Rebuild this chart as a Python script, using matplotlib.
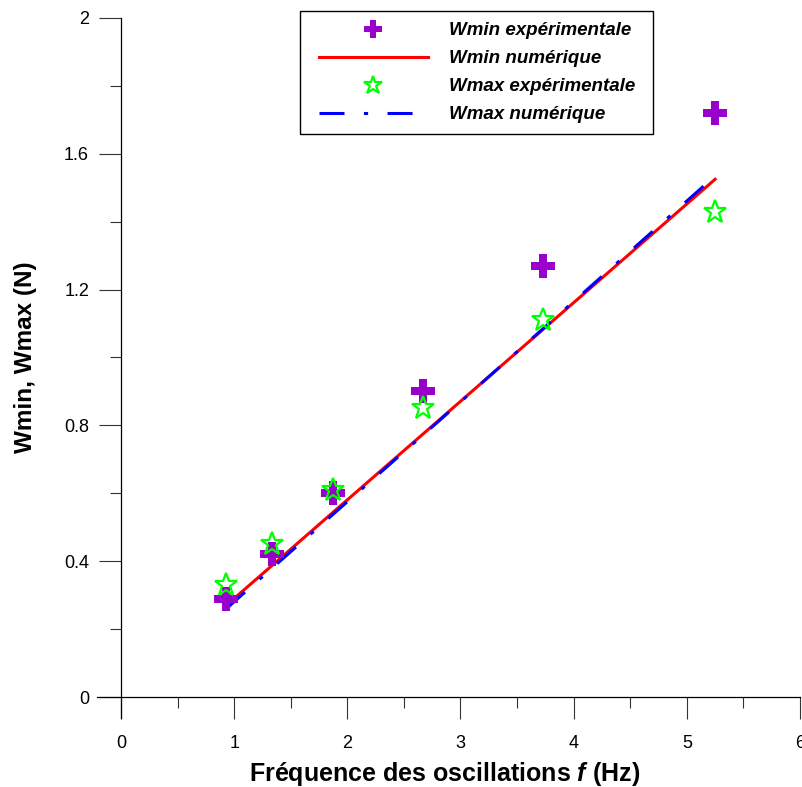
import matplotlib
matplotlib.use("Agg")
import matplotlib.pyplot as plt
from matplotlib.lines import Line2D
from matplotlib.patches import Rectangle

plt.rcParams['font.family'] = ['Liberation Sans', 'DejaVu Sans']
plt.rcParams['mathtext.fontset'] = 'custom'
plt.rcParams['mathtext.it'] = 'Liberation Sans:italic:bold'
plt.rcParams['lines.scale_dashes'] = False

# data
freq = [0.93, 1.33, 1.87, 2.67, 3.73, 5.25]
wmin_exp = [0.29, 0.42, 0.60, 0.90, 1.27, 1.72]
wmax_exp = [0.33, 0.45, 0.61, 0.85, 1.11, 1.43]
wmin_num = [0.27, 0.386, 0.543, 0.775, 1.083, 1.525]
wmax_num = [0.26, 0.378, 0.537, 0.772, 1.085, 1.535]

W, H = 803, 787
fig = plt.figure(figsize=(W / 100, H / 100), dpi=100)
ax = fig.add_axes([121 / W, 1 - 697 / H, 679 / W, 679 / H])

ax.plot(freq, wmin_exp, linestyle='none', marker='P', markersize=17,
        color='#9900cc', markeredgewidth=0, label='Wmin expérimentale', zorder=3)
ax.plot(freq, wmin_num, color='red', linewidth=2.2, label='Wmin numérique', zorder=2)
ax.plot(freq, wmax_exp, linestyle='none', marker='*', markersize=17,
        markerfacecolor='none', markeredgecolor='#00ff00', markeredgewidth=1.6,
        label='Wmax expérimentale', zorder=4)
ax.plot(freq, wmax_num, color='blue', linewidth=2.2, dashes=(18, 14, 3, 14),
        label='Wmax numérique', zorder=2.5)

ax.set_xlim(0, 6)
ax.set_ylim(0, 2)
ax.set_xticks([0, 1, 2, 3, 4, 5, 6])
ax.set_xticks([0.5, 1.5, 2.5, 3.5, 4.5, 5.5], minor=True)
ax.set_yticks([0, 0.4, 0.8, 1.2, 1.6, 2])
ax.set_yticklabels(['0', '0.4', '0.8', '1.2', '1.6', '2'])
ax.set_yticks([0.2, 0.6, 1.0, 1.4, 1.8], minor=True)
ax.tick_params(which='major', direction='out', length=16, width=0.8,
               color='#333333', labelsize=13)
ax.tick_params(axis='x', which='major', pad=11)
ax.tick_params(axis='y', which='major', pad=7)
ax.tick_params(which='minor', direction='out', length=8, width=0.8, color='#333333')

# axis lines crossing a bit past the origin
for s in ax.spines.values():
    s.set_visible(False)
ax.add_line(Line2D([-0.036, 1.0], [0, 0], transform=ax.transAxes,
                   color='black', linewidth=0.9, clip_on=False))
ax.add_line(Line2D([0, 0], [-0.031, 1.0], transform=ax.transAxes,
                   color='black', linewidth=0.9, clip_on=False))

ax.set_xlabel('Fréquence des oscillations $f$ (Hz)', fontsize=18,
              fontweight='bold', va='center')
ax.xaxis.set_label_coords(324 / 679, -77 / 679)
ax.set_ylabel('Wmin, Wmax (N)', fontsize=17.5, fontweight='bold', va='center')
ax.yaxis.set_label_coords(-95 / 679, 340 / 679)

leg = ax.legend(loc='upper left', bbox_to_anchor=(319 / W, 1 - 22 / H),
                bbox_transform=fig.transFigure, borderaxespad=0, borderpad=0,
                frameon=False, markerscale=0.8,
                handlelength=5.8, handletextpad=1.15, labelspacing=0.58,
                prop={'weight': 'bold', 'style': 'italic', 'size': 13.5})
fig.patches.append(Rectangle((300 / W, 1 - 134 / H), 353 / W, 123 / H,
                             transform=fig.transFigure, fill=False,
                             edgecolor='black', linewidth=1.0))

fig.savefig('out.png', dpi=100)
